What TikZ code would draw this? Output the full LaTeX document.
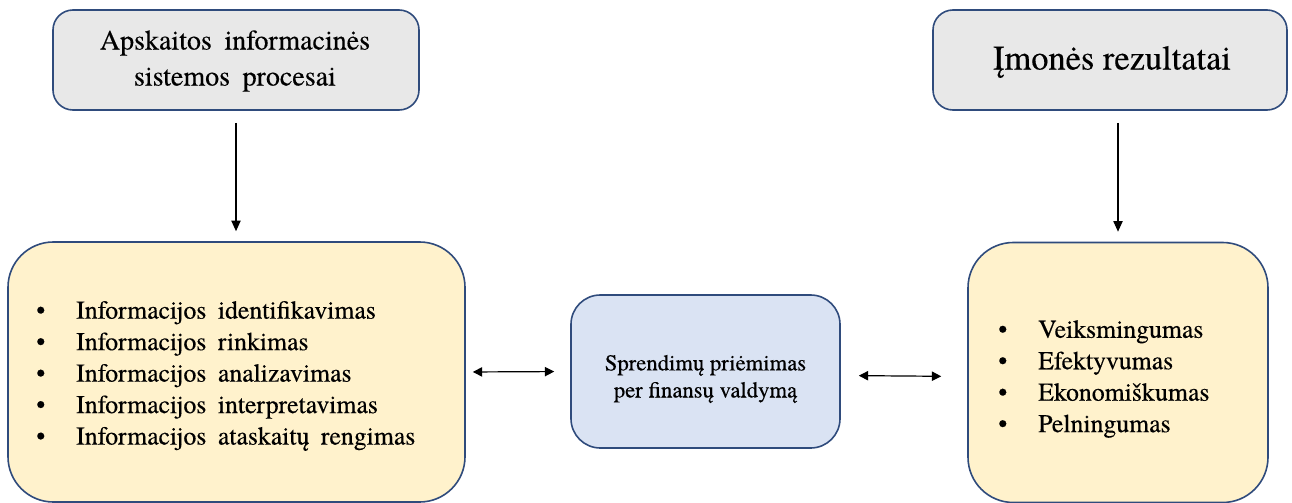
\documentclass[tikz,border=0pt]{standalone}
\usepackage{fontspec}
\setmainfont{texgyretermes}[Extension=.otf, UprightFont=*-regular,
  BoldFont=*-bold, ItalicFont=*-italic, BoldItalicFont=*-bolditalic,
  FakeBold=0.3]
\newfontfamily\widefont{texgyretermes}[Extension=.otf,
  UprightFont=*-regular, WordSpace={1.8}, FakeBold=0.3]
\usetikzlibrary{arrows.meta}
\definecolor{edgeblue}{HTML}{2F4B7C}
\definecolor{boxgray}{HTML}{E8E8E8}
\definecolor{boxyellow}{HTML}{FFF2CC}
\definecolor{boxblue}{HTML}{DAE3F3}
\tikzset{
  panel/.style={draw=edgeblue, line width=1.2pt, inner sep=0pt},
  headbox/.style={panel, fill=boxgray, rounded corners=15pt,
    minimum height=75pt},
  listbox/.style={panel, fill=boxyellow, rounded corners=34pt,
    minimum height=195pt},
  midbox/.style={panel, fill=boxblue, rounded corners=22pt,
    minimum width=201.75pt, minimum height=114.75pt},
  label/.style={inner sep=0pt, text=black},
  link/.style={line width=0.9pt, black,
    -{Triangle[length=8pt,width=7pt]}},
  duplex/.style={line width=0.9pt, black,
    {Triangle[length=7pt,width=7pt]}-{Triangle[length=7pt,width=7pt]}},
}
\newcommand{\bul}{\makebox[30pt][l]{\textbullet}}
\begin{document}
\begin{tikzpicture}[x=0.75pt, y=-0.75pt]
  \useasboundingbox (0,0) rectangle (1292,503);

  % header boxes
  \node[headbox, minimum width=274.5pt] (tl) at (236,60) {};
  \node[headbox, minimum width=265.5pt] (tr) at (1110,60) {};
  \node[label, align=center, font=\widefont\fontsize{21}{27}\selectfont]
    (tlt) at (235,61) {Apskaitos informacinės\\sistemos procesai};
  \node[label, font=\fontsize{25.8}{30}\selectfont]
    (trt) at (1112,62) {Įmonės rezultatai};

  % lower boxes
  \node[listbox, minimum width=342.75pt] (lb) at (236.5,372) {};
  \node[midbox] (mb) at (705.5,371.5) {};
  \node[listbox, minimum width=225pt] (rb) at (1118,372.5) {};

  \node[label, anchor=west, align=left,
        font=\widefont\fontsize{19.3}{23.6}\selectfont] (lbt) at (36,376)
    {\bul Informacijos identifikavimas\\
     \bul Informacijos rinkimas\\
     \bul Informacijos analizavimas\\
     \bul Informacijos interpretavimas\\
     \bul Informacijos ataskaitų rengimas};
  \node[label, align=center, font=\fontsize{17}{20.3}\selectfont]
    (mbt) at (705.5,379) {Sprendimų priėmimas\\per finansų valdymą};
  \node[label, anchor=west, align=left,
        font=\fontsize{19.3}{23.6}\selectfont] (rbt) at (998,379)
    {\bul Veiksmingumas\\
     \bul Efektyvumas\\
     \bul Ekonomiškumas\\
     \bul Pelningumas};

  % connectors
  \draw[link, shorten <=9pt, shorten >=7.5pt] (tl.south) -- (tl.south |- lb.north);
  \draw[link, shorten <=9pt, shorten >=7.5pt] (rb.north |- tr.south) -- (rb.north);
  \draw[duplex, shorten <=5.25pt, shorten >=12pt] (lb.east) -- (mb.west);
  \draw[duplex, shorten <=13.5pt, shorten >=19.5pt]
    ([yshift=-3pt]mb.east) -- ([yshift=-3pt]rb.west);
\end{tikzpicture}
\end{document}
